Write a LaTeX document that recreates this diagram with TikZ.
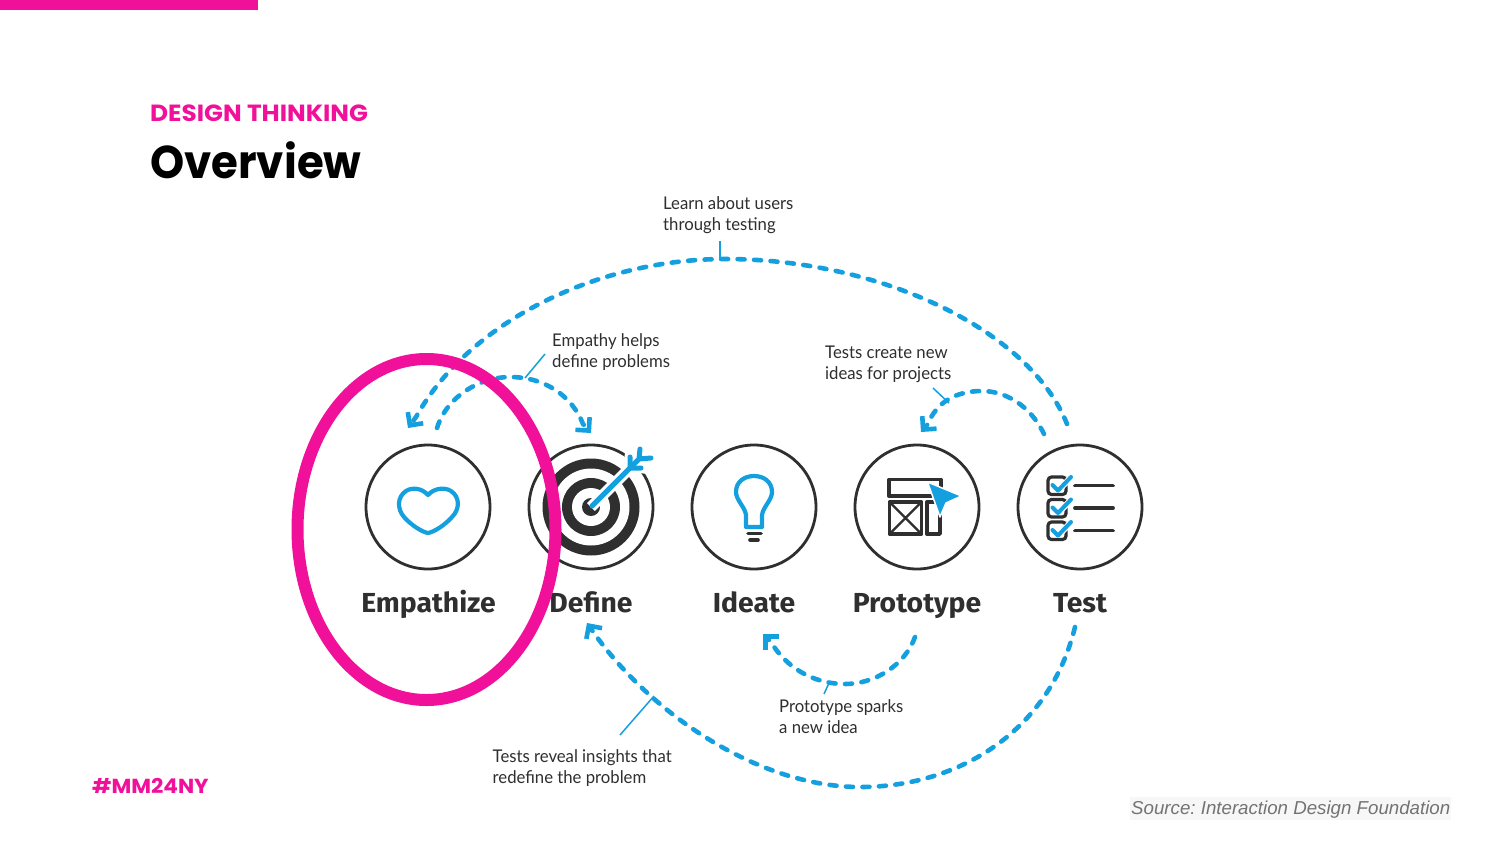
\documentclass[tikz,border=0pt]{standalone}
\usepackage{fontspec}
\usetikzlibrary{arrows.meta,shapes.geometric}
\setmainfont{Lato}[FakeStretch=0.955]
\newfontfamily\stagefont{Fira Sans}[BoldFont={* Bold},FakeStretch=1.03]
\newfontfamily\kickerfont{Poppins}[BoldFont={* Bold},FakeStretch=1.06]
\newfontfamily\titlefont{Poppins}[BoldFont={* Bold},FakeStretch=0.945]
\newfontfamily\srcfont{Liberation Sans}
\definecolor{mag}{HTML}{F0109A}
\definecolor{sky}{HTML}{149FDF}
\definecolor{ink}{HTML}{2F2F2F}
\tikzset{
  stagecircle/.style={circle,draw=ink,line width=2.8pt,minimum size=124pt,inner sep=0pt},
  stagelabel/.style={text=ink,font=\stagefont\fontsize{27.5}{30}\selectfont\bfseries,anchor=base,inner sep=0pt},
  note/.style={text=ink,font=\fontsize{17.5}{21}\selectfont,align=left,anchor=north west,inner sep=0pt},
  loopline/.style={draw=sky,line width=4.6pt,line cap=round,dash pattern=on 7pt off 9.5pt,-{Straight Barb[length=9.5pt,width=19pt,line width=4.6pt]}},
  leader/.style={draw=sky,line width=1.5pt},
  iconblue/.style={draw=sky,line width=4.2pt,line cap=round,line join=round},
  iconink/.style={draw=ink,line width=3.4pt,line join=round},
}
\begin{document}
\frenchspacing
\begin{tikzpicture}[x=1pt,y=-1pt]
\useasboundingbox (0,0) rectangle (1500,844);
\fill[white] (0,0) rectangle (1500,844);
\fill[mag] (0,0) rectangle (258,9.5);
\node[anchor=base west,inner sep=0pt,text=mag,font=\kickerfont\fontsize{23.4}{26}\selectfont\bfseries] (kicker) at (150,121) {DESIGN THINKING};
\node[anchor=base west,inner sep=0pt,text=black,font=\titlefont\fontsize{46}{50}\selectfont\bfseries] (title) at (150,178) {Overview};
\node[anchor=base west,inner sep=0pt,text=mag,font=\kickerfont\fontsize{20.3}{24}\selectfont\bfseries] (tag) at (92,793) {\#MM24NY};
\fill[black!3] (1130,797) rectangle (1451,820);
\node[anchor=base west,inner sep=0pt,text=black!55,font=\srcfont\fontsize{18.7}{22}\selectfont\itshape] (source) at (1131,814) {Source: Interaction Design Foundation};

% stage circles
\node[stagecircle] (emp) at (428,507) {};
\node[stagecircle] (def) at (591,507) {};
\node[stagecircle] (ide) at (754,507) {};
\node[stagecircle] (pro) at (917,507) {};
\node[stagecircle] (tes) at (1080,507) {};

% heart
\draw[iconblue] (428,495) .. controls (422,488) and (412,487) .. (406,491)
  .. controls (397,497) and (397,509) .. (404,517)
  .. controls (411,525) and (422,532) .. (428,533)
  .. controls (434,532) and (445,525) .. (452,517)
  .. controls (460,509) and (460,497) .. (451,491)
  .. controls (445,487) and (434,488) .. (428,495) -- cycle;

% target
\fill[ink] (591,507) circle (48.5);
\fill[white] (591,507) circle (38.5);
\fill[ink] (591,507) circle (29);
\fill[white] (591,507) circle (19);
\fill[ink] (591,507) circle (9);
\draw[white,line width=11pt] (591,507) -- (638,460);
\draw[white,line width=10pt,line cap=round] (628,470) -- (630,453) (631,467) -- (648,469) (636,462) -- (640,448) (636,462) -- (650,459);
\draw[sky,line width=5pt,line cap=round] (592,506) -- (638,460);
\draw[sky,line width=5pt,line cap=round] (630,468) -- (630,457) (630,468) -- (641,468) (639,459) -- (640,449) (639,459) -- (651,458);

% bulb
\draw[iconblue] (746,527) -- (746,515) .. controls (745,507) and (736,500) .. (736,492)
  .. controls (736,482) and (744,476) .. (754,476)
  .. controls (764,476) and (772,482) .. (772,492)
  .. controls (772,500) and (763,507) .. (762,515) -- (762,527) -- cycle;
\draw[ink,line width=3.6pt,line cap=round] (748,533.5) -- (761,533.5);
\draw[ink,line width=3.6pt,line cap=round] (750,540) -- (758,540);

% prototype wireframe
\draw[iconink] (889,479.5) rectangle (941,496);
\draw[iconink] (889.5,502) rectangle (921.5,534);
\draw[iconink,line width=2.4pt] (889.5,502) -- (921.5,534) (921.5,502) -- (889.5,534);
\draw[iconink] (927,502) rectangle (940,534);
\fill[sky,draw=white,line width=1.5pt,line join=round] (927.5,482) -- (961.5,496) -- (946,503) -- (940,517) -- cycle;

% checklist
\foreach \yy/\nm in {477/a,499.5/b,522/c}{
  \draw[ink,line width=3.2pt,rounded corners=3.5pt] (1048,\yy) rectangle (1066,\yy+17.5);
  \draw[white,line width=6pt,line cap=round,line join=round] (1060,\yy+12) -- (1071,\yy);
  \draw[sky,line width=4pt,line cap=round,line join=round] (1052.5,\yy+8) -- (1058,\yy+13.5) -- (1071,\yy);
  \draw[ink,line width=3.8pt,line cap=round] (1075,\yy+8.5) -- (1113,\yy+8.5);
}

% stage names
\node[stagelabel] (lemp) at (428.5,612) {Empathize};
\node[stagelabel] (ldef) at (591,612) {Define};
\node[stagelabel] (lide) at (754,612) {Ideate};
\node[stagelabel] (lpro) at (917,612) {Prototype};
\node[stagelabel] (ltes) at (1080,612) {Test};

% notes
\node[note] (n1) at (663,196) {Learn about users\\through testing};
\node[note] (n2) at (552,333) {Empathy helps\\define problems};
\node[note] (n3) at (825,346) {Tests create new\\ideas for projects};
\node[note] (n4) at (779,699) {Prototype sparks\\a new idea};
\node[note] (n5) at (492.5,749) {Tests reveal insights that\\redefine the problem};

% loop connectors
\coordinate (t0) at (1067,424);
\coordinate (t1) at (408,428);
\coordinate (e0) at (437,428);
\coordinate (e1) at (591,433);
\coordinate (p0) at (1044,434);
\coordinate (p1) at (921,432);
\coordinate (b0) at (1075,627);
\coordinate (b1) at (587,623);
\coordinate (i0) at (915,637);
\coordinate (i1) at (763,634);
\draw[loopline] (t0) .. controls (1030,330) and (880,259) .. (725,259) .. controls (600,259) and (470,320) .. (416,417) -- (t1);
\draw[loopline] (e0) .. controls (447,396) and (480,377) .. (510,377) .. controls (545,377) and (572,396) .. (583,424) -- (e1);
\draw[loopline] (p0) .. controls (1030,405) and (1005,391) .. (982,391) .. controls (955,391) and (936,403) .. (928,424) -- (p1);
\draw[loopline] (b0) .. controls (1050,730) and (960,787) .. (860,787) .. controls (760,787) and (650,715) .. (b1);
\draw[loopline] (i0) .. controls (905,665) and (875,684) .. (845,684) .. controls (812,684) and (785,666) .. (771,642) -- (i1);

% leaders
\coordinate (l1a) at (720,241); \coordinate (l1b) at (720,259);
\coordinate (l2a) at (545,354); \coordinate (l2b) at (525,378);
\coordinate (l3a) at (949,403); \coordinate (l3b) at (933,388);
\coordinate (l4a) at (829,683); \coordinate (l4b) at (824,694);
\coordinate (l5a) at (654,696); \coordinate (l5b) at (620,735);
\draw[leader] (l1a) -- (l1b);
\draw[leader] (l2a) -- (l2b);
\draw[leader] (l3a) -- (l3b);
\draw[leader] (l4a) -- (l4b);
\draw[leader] (l5a) -- (l5b);

% highlight
\node[draw=mag,line width=12pt,ellipse,minimum width=258pt,minimum height=341pt,inner sep=0pt] (focus) at (426.5,529.5) {};
\end{tikzpicture}
\end{document}
